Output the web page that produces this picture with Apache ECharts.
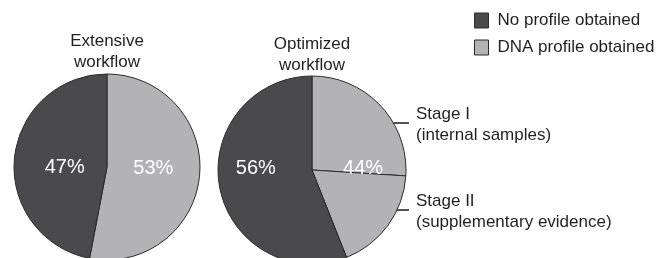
<!DOCTYPE html>
<html>
<head>
<meta charset="utf-8">
<script src="https://cdn.jsdelivr.net/npm/echarts@6/dist/echarts.min.js"></script>
<style>
  html, body { margin: 0; padding: 0; background: #fff; }
  #chart { width: 659px; height: 258px; }
</style>
</head>
<body>
<div id="chart"></div>
<script>
// outcome categories (legend order)
const categories = ['No profile obtained', 'DNA profile obtained']
const workflows = ['Extensive\nworkflow', 'Optimized\nworkflow']

// share of samples per workflow, in %: [no profile, DNA profile]
const extensiveShares = [47, 53]
const optimizedShares = [56, 44]

// the optimized workflow's DNA profiles split by stage, in %
const stageNames = ['Stage I', 'Stage II']
const stageNotes = ['(internal samples)', '(supplementary evidence)']
const stageShares = [26, 18]

const DARK = '#4a4a4c'
const LIGHT = '#b3b3b5'
const EDGE = '#2b2b2b'
const INK = '#231f20'
const FONT = '"Liberation Sans", Arial, sans-serif'

const left = { cx: 107, cy: 167, r: 93 }
const right = { cx: 312, cy: 170, r: 94 }

// y of the two stage leader ticks, label text starts just right of them
const stageLeaderY = [123, 210]
const stageInnerTick = [0, 13]
const stageTextX = 416

// small nudges so the % labels sit on the pie's horizontal centre line
const pctNudge = {
  0: [[-3, -3], [7, 5]],
  2: [[2, 8], [-7, -11]]
}

const chart = echarts.init(document.getElementById('chart'))

const pctLabel = {
  show: true,
  position: 'inside',
  formatter: '{c}%',
  color: '#fff',
  fontSize: 20,
  fontFamily: FONT
}

function pctLayout(params) {
  const n = pctNudge[params.seriesIndex][params.dataIndex]
  return { dx: n[0], dy: n[1] }
}

function stageLayout(params) {
  const i = params.dataIndex
  if (i >= stageNames.length) return {}
  const y = stageLeaderY[i]
  const dy = y - right.cy
  const edgeX = right.cx + Math.sqrt(right.r * right.r - dy * dy)
  return {
    x: stageTextX,
    y: y + 2,
    align: 'left',
    verticalAlign: 'middle',
    labelLinePoints: [[edgeX - stageInnerTick[i], y], [edgeX, y], [stageTextX - 7, y]]
  }
}

const option = {
  animation: false,
  title: workflows.map((w, i) => ({
    text: w,
    left: i === 0 ? left.cx : right.cx,
    top: i === 0 ? 31 : 34,
    textAlign: 'center',
    padding: 0,
    textStyle: {
      color: INK,
      fontSize: 17,
      fontWeight: 'normal',
      lineHeight: 21,
      fontFamily: FONT
    }
  })),
  legend: {
    data: categories,
    orient: 'vertical',
    left: 474,
    top: 12,
    padding: 0,
    icon: 'rect',
    itemWidth: 14,
    itemHeight: 15,
    itemGap: 10,
    itemStyle: { borderColor: EDGE, borderWidth: 1 },
    textStyle: { color: INK, fontSize: 17, fontFamily: FONT, padding: [0, 0, 0, 4] }
  },
  series: [
    {
      type: 'pie',
      center: [left.cx, left.cy],
      radius: left.r,
      startAngle: 90,
      clockwise: true,
      silent: true,
      itemStyle: { borderColor: EDGE, borderWidth: 1 },
      label: pctLabel,
      labelLine: { show: false },
      labelLayout: pctLayout,
      data: [
        { name: categories[1], value: extensiveShares[1], itemStyle: { color: LIGHT } },
        { name: categories[0], value: extensiveShares[0], itemStyle: { color: DARK } }
      ]
    },
    {
      type: 'pie',
      center: [right.cx, right.cy],
      radius: right.r,
      startAngle: 90,
      clockwise: true,
      silent: true,
      avoidLabelOverlap: false,
      itemStyle: { borderColor: EDGE, borderWidth: 1 },
      label: {
        show: true,
        position: 'outside',
        color: INK,
        fontSize: 17,
        lineHeight: 21,
        fontFamily: FONT,
        formatter: (p) => p.name + '\n' + stageNotes[p.dataIndex]
      },
      labelLine: { show: true, lineStyle: { color: '#1a1a1a', width: 1.5 } },
      labelLayout: stageLayout,
      data: stageNames.map((s, i) => ({
        name: s,
        value: stageShares[i],
        itemStyle: { color: LIGHT }
      })).concat([{
        name: categories[0],
        value: optimizedShares[0],
        itemStyle: { color: DARK },
        label: { show: false },
        labelLine: { show: false }
      }])
    },
    {
      // invisible overlay carrying the overall 56 / 44 split labels
      type: 'pie',
      center: [right.cx, right.cy],
      radius: right.r,
      startAngle: 90,
      clockwise: true,
      silent: true,
      itemStyle: { color: 'rgba(0,0,0,0)', borderWidth: 0 },
      label: pctLabel,
      labelLine: { show: false },
      labelLayout: pctLayout,
      data: [
        { name: categories[1], value: optimizedShares[1] },
        { name: categories[0], value: optimizedShares[0] }
      ]
    }
  ]
}

chart.setOption(option)
</script>
</body>
</html>
